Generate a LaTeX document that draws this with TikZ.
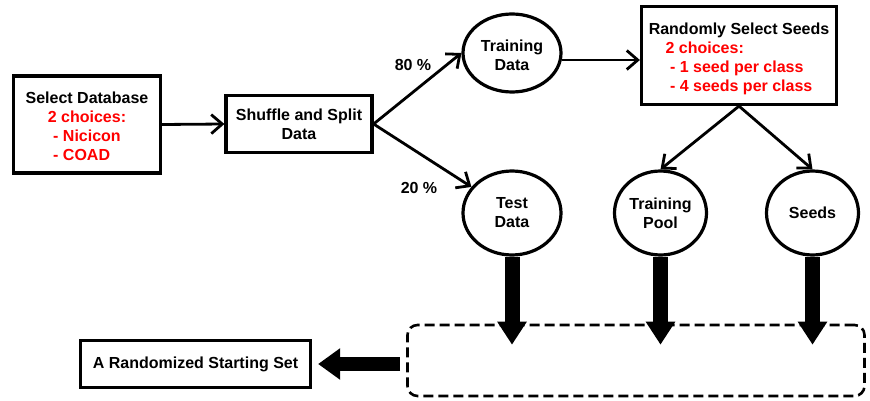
\documentclass[tikz,border=0pt]{standalone}
\usepackage{fontspec}
\setmainfont{Liberation Sans}
\usetikzlibrary{arrows.meta,shapes.geometric,calc}
\tikzset{
  lbl/.style={font=\fontsize{16}{19}\selectfont\bfseries, align=center, inner sep=0pt},
  box/.style={lbl, draw, rectangle, line width=3.2pt},
  blob/.style={lbl, draw, ellipse, line width=3.2pt},
  flow/.style={line width=2.8pt, -{Straight Barb[length=11pt,width=19pt]}},
  fat/.style={line width=15pt, -{Triangle[length=23pt,width=28pt]}},
  merge/.style={draw, rectangle, rounded corners=10pt, line width=2.6pt, dash pattern=on 10pt off 5pt},
}
\newcommand{\opts}[1]{\textcolor{red}{#1}}
\newcommand{\toppad}{\rule{0pt}{20pt}}
\begin{document}
\begin{tikzpicture}[x=1pt,y=-1pt]
\useasboundingbox (0,0) rectangle (870,401);

% process boxes
\node[box, minimum width=147pt, minimum height=97pt] (db) at (87,124.5)
  {\toppad Select Database\\ \opts{2 choices:}\\
   \opts{\begin{tabular}[t]{@{}l@{}}- Nicicon\\- COAD\end{tabular}}};
\node[box, minimum width=146pt, minimum height=57pt] (split) at (299,124)
  {Shuffle and Split\\Data};
\node[box, minimum width=195pt, minimum height=98pt] (rand) at (739,55.5)
  {\toppad Randomly Select Seeds\\
   \opts{\begin{tabular}[t]{@{}l@{}}2 choices:\\ \ - 1 seed per class\\ \ - 4 seeds per class\end{tabular}}};
\node[box, minimum width=230pt, minimum height=47pt] (start) at (195.5,364)
  {A Randomized Starting Set};

% data sets
\node[blob, minimum width=98pt, minimum height=78pt] (train) at (512,53) {\rule{0pt}{16pt}Training\\Data};
\node[blob, minimum width=98pt, minimum height=84pt] (test) at (512,213) {Test\\Data};
\node[blob, minimum width=92pt, minimum height=84pt] (pool) at (660.5,213) {Training\\Pool};
\node[blob, minimum width=92pt, minimum height=84pt] (seeds) at (812.5,213) {Seeds};

% split ratios
\node[lbl] (p80) at (413,65) {80 \%};
\node[lbl] (p20) at (419,188) {20 \%};

% collecting area
\node[merge, minimum width=457pt, minimum height=71pt] (set) at (636,360.5) {};

% thin connectors
\draw[flow] (db.east) -- (split.west);
\draw[flow] (split.east) -- (train.west);
\draw[flow] (split.east) -- (test);
\draw[flow] (train.-8) -- (train.-8 -| rand.west);
\draw[flow] (rand.south) -- (pool.north);
\draw[flow] (rand.south) -- (seeds.north);

% thick connectors into the collecting area
\foreach \n in {test,pool,seeds}
  \draw[fat] (\n.south) -- ($(\n.south |- set.north)+(0,21)$);
\draw[line width=14pt, -{Triangle[length=22pt,width=30pt]}, shorten >=6pt]
  ($(set.west |- start.east)+(-6,0)$) -- (start.east);
\end{tikzpicture}
\end{document}
